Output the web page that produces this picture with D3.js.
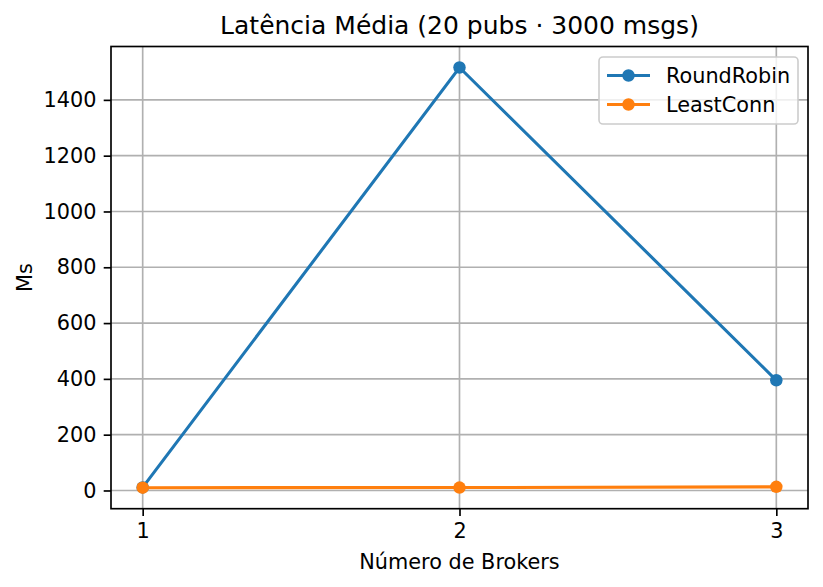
<!DOCTYPE html>
<html>
<head>
<meta charset="utf-8">
<script src="https://cdn.jsdelivr.net/npm/d3@7"></script>
<style>
  body { margin: 0; background: #fff; }
  text { font-family: "DejaVu Sans", sans-serif; fill: #000; }
</style>
</head>
<body>
<svg id="chart" width="823" height="587"></svg>
<script>
// data
const brokers = [1, 2, 3];
const roundRobin = [11, 1516, 395];
const leastConn = [10, 10.5, 13];
const yTicks = [0, 200, 400, 600, 800, 1000, 1200, 1400];
const seriesNames = ["RoundRobin", "LeastConn"];
const seriesColors = ["#1f77b4", "#ff7f0e"];

const svg = d3.select("#chart");
const plotLeft = 111, plotRight = 808, plotTop = 46.5, plotBottom = 508.7;
const fs = 20.8;

// matplotlib-like 5% margins
const allY = roundRobin.concat(leastConn);
const yMin = d3.min(allY), yMax = d3.max(allY);
const yPad = (yMax - yMin) * 0.05;
const x = d3.scaleLinear().domain([0.9, 3.1]).range([plotLeft, plotRight]);
const y = d3.scaleLinear().domain([yMin - yPad, yMax + yPad]).range([plotBottom, plotTop]);

// grid
const grid = svg.append("g");
brokers.forEach(b => {
    grid.append("line").attr("x1", x(b)).attr("x2", x(b)).attr("y1", plotTop).attr("y2", plotBottom)
        .attr("stroke", "#b0b0b0").attr("stroke-width", 1.67);
});
yTicks.forEach(t => {
    grid.append("line").attr("x1", plotLeft).attr("x2", plotRight).attr("y1", y(t)).attr("y2", y(t))
        .attr("stroke", "#b0b0b0").attr("stroke-width", 1.67);
});

// axes
const xAxis = d3.axisBottom(x).tickValues(brokers).tickFormat(d3.format("d"))
    .tickSizeInner(7.3).tickSizeOuter(0).tickPadding(7.3);
const yAxis = d3.axisLeft(y).tickValues(yTicks).tickFormat(d3.format("d"))
    .tickSizeInner(7.3).tickSizeOuter(0).tickPadding(7.3);

const gx = svg.append("g").attr("transform", `translate(0,${plotBottom})`).call(xAxis);
const gy = svg.append("g").attr("transform", `translate(${plotLeft},0)`).call(yAxis);
[gx, gy].forEach(g => {
    g.select(".domain").remove();
    g.selectAll(".tick line").attr("stroke", "#000").attr("stroke-width", 1.67);
    g.selectAll(".tick text").attr("font-size", fs).attr("font-family", "DejaVu Sans").attr("fill", "#000");
});

// series
const line = d3.line().x((d, i) => x(brokers[i])).y(d => y(d));
[roundRobin, leastConn].forEach((vals, k) => {
    svg.append("path").datum(vals).attr("d", line)
        .attr("fill", "none").attr("stroke", seriesColors[k]).attr("stroke-width", 3.1);
    svg.selectAll(null).data(vals).enter().append("circle")
        .attr("cx", (d, i) => x(brokers[i])).attr("cy", d => y(d)).attr("r", 6.25)
        .attr("fill", seriesColors[k]);
});

// frame
svg.append("rect").attr("x", plotLeft).attr("y", plotTop)
    .attr("width", plotRight - plotLeft).attr("height", plotBottom - plotTop)
    .attr("fill", "none").attr("stroke", "#000").attr("stroke-width", 1.67);

// title and labels
svg.append("text").attr("x", (plotLeft + plotRight) / 2).attr("y", 34).attr("text-anchor", "middle")
    .attr("font-size", 25).text("Latência Média (20 pubs · 3000 msgs)");
svg.append("text").attr("x", (plotLeft + plotRight) / 2).attr("y", 569).attr("text-anchor", "middle")
    .attr("font-size", fs).text("Número de Brokers");
svg.append("text").attr("transform", `translate(32,${(plotTop + plotBottom) / 2}) rotate(-90)`)
    .attr("text-anchor", "middle").attr("font-size", fs).text("Ms");

// legend
const leg = svg.append("g");
leg.append("rect").attr("x", 599).attr("y", 57).attr("width", 199).attr("height", 67).attr("rx", 4)
    .attr("fill", "#fff").attr("fill-opacity", 0.8).attr("stroke", "#cccccc").attr("stroke-width", 1.6);
seriesNames.forEach((name, k) => {
    const cy = 75.5 + k * 29;
    leg.append("line").attr("x1", 607).attr("x2", 650).attr("y1", cy).attr("y2", cy)
        .attr("stroke", seriesColors[k]).attr("stroke-width", 3.1);
    leg.append("circle").attr("cx", 628.5).attr("cy", cy).attr("r", 6.25).attr("fill", seriesColors[k]);
    leg.append("text").attr("x", 666).attr("y", cy + 7.3).attr("font-size", fs).text(name);
});
</script>
</body>
</html>
